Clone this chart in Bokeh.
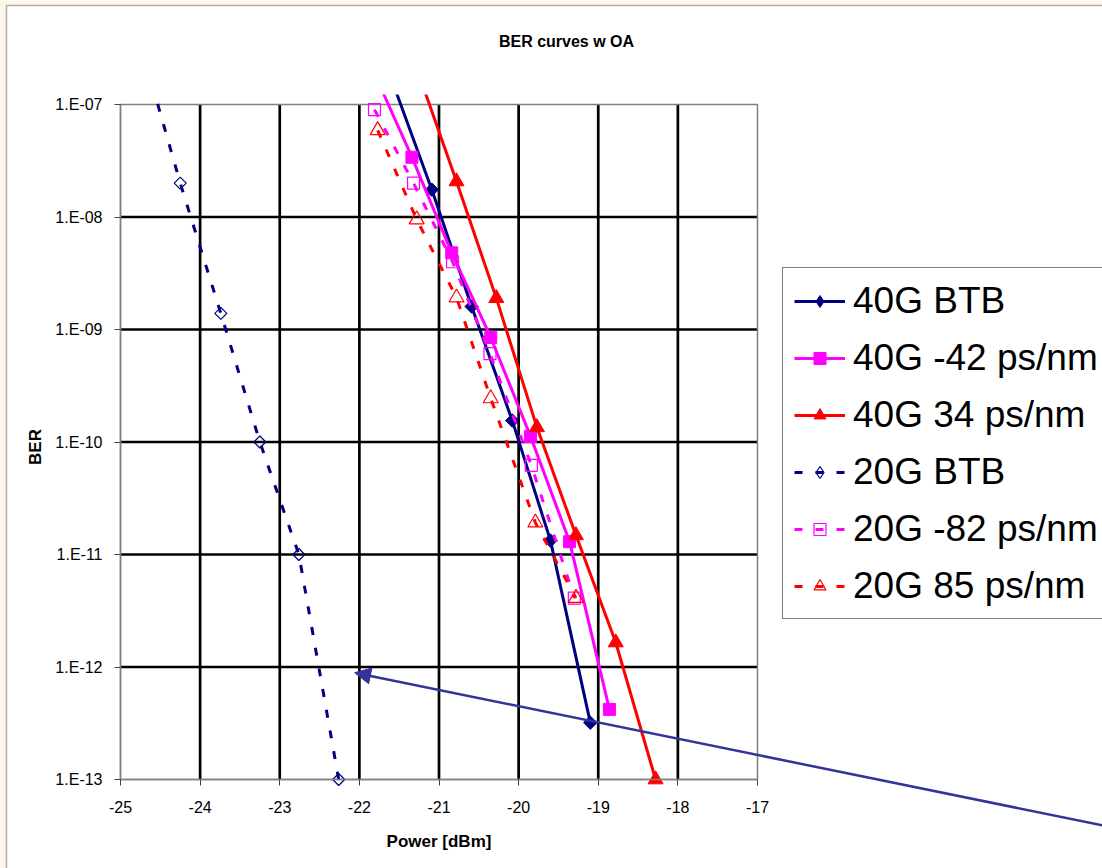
from bokeh.plotting import figure
from bokeh.models import (Range1d, FixedTicker, Legend, LegendItem, Label, Arrow, NormalHead,
                          BoxAnnotation)
from bokeh.embed import file_html
from bokeh.resources import INLINE
import math

# ---------------- data ----------------
title_text = "BER curves w OA"
x_label = "Power [dBm]"
y_label = "BER"

xtick_vals = [-25, -24, -23, -22, -21, -20, -19, -18, -17]
xtick_labels = ["-25", "-24", "-23", "-22", "-21", "-20", "-19", "-18", "-17"]
ytick_vals = [1e-13, 1e-12, 1e-11, 1e-10, 1e-09, 1e-08, 1e-07]
ytick_labels = ["1.E-13", "1.E-12", "1.E-11", "1.E-10", "1.E-09", "1.E-08", "1.E-07"]

labels = ["40G BTB", "40G -42 ps/nm", "40G 34 ps/nm",
          "20G BTB", "20G -82 ps/nm", "20G 85 ps/nm"]

x_40g_btb = [-21.60, -21.09, -20.59, -20.08, -19.60, -19.10]
y_40g_btb = [1.7e-7, 1.75e-8, 1.6e-9, 1.55e-10, 1.33e-11, 3.2e-13]

x_40g_m42 = [-21.84, -21.34, -20.84, -20.35, -19.85, -19.36, -18.86]
y_40g_m42 = [2.1e-7, 3.4e-8, 4.8e-9, 8.5e-10, 1.12e-10, 1.3e-11, 4.2e-13]

x_40g_p34 = [-21.28, -20.78, -20.28, -19.77, -19.28, -18.78, -18.28]
y_40g_p34 = [2.1e-7, 2.07e-8, 1.9e-9, 1.35e-10, 1.48e-11, 1.65e-12, 1.0e-13]

x_20g_btb = [-24.75, -24.25, -23.74, -23.25, -22.76, -22.26]
y_20g_btb = [3.5e-7, 2.0e-8, 1.39e-9, 1.0e-10, 1.0e-11, 1.0e-13]

x_20g_m82 = [-21.81, -21.32, -20.83, -20.36, -19.84, -19.30]
y_20g_m82 = [9.0e-8, 2.0e-8, 4.0e-9, 6.1e-10, 6.2e-11, 4.1e-12]

x_20g_p85 = [-21.77, -21.28, -20.78, -20.35, -19.79, -19.28]
y_20g_p85 = [5.9e-8, 9.5e-9, 1.92e-9, 2.44e-10, 1.92e-11, 4.1e-12]

# arrow annotation (tip and tail, data coordinates)
arrow_tip = (-22.06, 8.9e-13)
arrow_tail = (-12.66, 3.9e-14)

# ---------------- layout (canvas pixels) ----------------
W, H = 1102, 868
BOX_L, BOX_R, BOX_T, BOX_B = 120, 757, 104, 779   # plot box
LINE_CLIP_TOP = 94                                 # series are cut here, as in the original
CHART_L, CHART_T = 6, 5                            # chart-area border

px_per_x = (BOX_R - BOX_L) / (xtick_vals[-1] - xtick_vals[0])
lg_top, lg_bot = math.log10(ytick_vals[-1]), math.log10(ytick_vals[0])
px_per_dec = (BOX_B - BOX_T) / (lg_top - lg_bot)
x_start = xtick_vals[0] - BOX_L / px_per_x
x_end = xtick_vals[-1] + (W - BOX_R) / px_per_x
y_top = 10 ** (lg_top + BOX_T / px_per_dec)
y_bottom = 10 ** (lg_bot - (H - BOX_B) / px_per_dec)
clip_bottom = 10 ** (lg_top + (BOX_T - LINE_CLIP_TOP) / px_per_dec)
clip_top = 10 ** (lg_top + (BOX_T - CHART_T - 2) / px_per_dec)

# ---------------- styles ----------------
NAVY = "#000080"
MAGENTA = "#FF00FF"
RED = "#FF0000"
ARROW_COLOR = "#333399"
CREAM = "#FDF5E6"
FONT = "Liberation Sans"

styles = [
    dict(color=NAVY, marker="square", angle=math.pi / 4, size=9.5, filled=True, dash="solid", legend_marker="diamond"),
    dict(color=MAGENTA, marker="square", angle=0, size=12, filled=True, dash="solid", legend_marker=None),
    dict(color=RED, marker="triangle", angle=0, size=15, filled=True, dash="solid", legend_marker=None),
    dict(color=NAVY, marker="square", angle=math.pi / 4, size=8.5, filled=False, dash="8 13", legend_marker="diamond"),
    dict(color=MAGENTA, marker="square", angle=0, size=12, filled=False, dash="8 13", legend_marker=None),
    dict(color=RED, marker="triangle", angle=0, size=15, filled=False, dash="8 13", legend_marker=None),
]
series_x = [x_40g_btb, x_40g_m42, x_40g_p34, x_20g_btb, x_20g_m82, x_20g_p85]
series_y = [y_40g_btb, y_40g_m42, y_40g_p34, y_20g_btb, y_20g_m82, y_20g_p85]

p = figure(width=W, height=H, output_backend="svg", toolbar_location=None,
           x_range=Range1d(x_start, x_end), y_range=Range1d(y_bottom, y_top), y_axis_type="log",
           min_border_left=0, min_border_right=0, min_border_top=0, min_border_bottom=0)

p.background_fill_color = CREAM
p.border_fill_color = CREAM
p.outline_line_color = None
p.xgrid.visible = False
p.ygrid.visible = False

# white chart area with black border
p.add_layout(BoxAnnotation(left=CHART_L, right=W + 20, top=H - CHART_T, bottom=-20,
                           left_units="screen", right_units="screen",
                           top_units="screen", bottom_units="screen",
                           fill_color="white", fill_alpha=1,
                           line_color="black", line_width=1.5, level="underlay"))

# axes placed at the plot box edges
p.xaxis.fixed_location = ytick_vals[0]
p.yaxis.fixed_location = xtick_vals[0]
p.xaxis.bounds = (xtick_vals[0], xtick_vals[-1])
p.yaxis.bounds = (ytick_vals[0], ytick_vals[-1])
p.xaxis.ticker = FixedTicker(ticks=xtick_vals)
p.xaxis.major_label_overrides = {v: l for v, l in zip(xtick_vals, xtick_labels)}
p.yaxis.ticker = FixedTicker(ticks=ytick_vals)
p.yaxis.major_label_overrides = {v: l for v, l in zip(ytick_vals, ytick_labels)}
for ax in (p.xaxis, p.yaxis):
    ax.axis_line_color = "#808080"
    ax.axis_line_width = 1.5
    ax.major_tick_line_color = "#404040"
    ax.major_tick_line_width = 1
    ax.major_tick_out = 6
    ax.major_tick_in = 0
    ax.minor_tick_line_color = None
    ax.major_label_text_font = FONT
    ax.major_label_text_font_size = "16px"
    ax.major_label_text_color = "black"
p.xaxis.major_label_standoff = 15
p.yaxis.major_label_standoff = 12

# grid lines (interior) and plot box
gx = xtick_vals[1:-1]
p.segment(x0=gx, y0=[ytick_vals[0]] * len(gx), x1=gx, y1=[ytick_vals[-1]] * len(gx),
          line_color="black", line_width=2.7)
gy = ytick_vals[1:-1]
p.segment(x0=[xtick_vals[0]] * len(gy), y0=gy, x1=[xtick_vals[-1]] * len(gy), y1=gy,
          line_color="black", line_width=2.7)
p.quad(left=[xtick_vals[0]], right=[xtick_vals[-1]], bottom=[ytick_vals[0]], top=[ytick_vals[-1]],
       fill_color=None, line_color="#808080", line_width=1.5)

# series
items = []
for lab, xs, ys, st in zip(labels, series_x, series_y, styles):
    lr = p.line(xs, ys, line_color=st["color"], line_width=3, line_dash=st["dash"])
    fill = dict(fill_color=st["color"], line_width=1) if st["filled"] else dict(fill_alpha=0, line_width=1.2)
    sr = p.scatter(xs, ys, marker=st["marker"], size=st["size"], angle=st["angle"],
                   line_color=st["color"], **fill)
    legend_renderers = [lr, sr]
    if st["legend_marker"] is not None:
        # legend swatches are never rotated: a zero-size diamond renderer supplies the swatch
        dr = p.scatter(xs, ys, marker=st["legend_marker"], size=0, line_color=st["color"], **fill)
        legend_renderers = [lr, dr]
    items.append(LegendItem(label=lab, renderers=legend_renderers))

# white mask: series are cut slightly above the plot box as in the original
p.quad(left=[xtick_vals[0]], right=[xtick_vals[-1]], bottom=[clip_bottom], top=[clip_top],
       fill_color="white", line_color=None)

# arrow
p.add_layout(Arrow(end=NormalHead(size=16, fill_color=ARROW_COLOR, line_color=ARROW_COLOR),
                   x_start=arrow_tail[0], y_start=arrow_tail[1],
                   x_end=arrow_tip[0], y_end=arrow_tip[1],
                   line_color=ARROW_COLOR, line_width=2.5))

# legend
legend = Legend(items=items, location=(782, H - 619), orientation="vertical",
                label_text_font=FONT, label_text_font_size="37px", label_text_color="black",
                glyph_width=51, glyph_height=30, label_height=43, label_standoff=8,
                spacing=14, padding=11, margin=0,
                border_line_color="black", border_line_width=1,
                background_fill_color="white", background_fill_alpha=1)
p.add_layout(legend, "center")

# title and axis titles
p.add_layout(Label(x=566, y=H - 41, x_units="screen", y_units="screen", text=title_text,
                   text_font=FONT, text_font_style="bold", text_font_size="16px",
                   text_align="center", text_baseline="middle", text_color="black"))
p.add_layout(Label(x=(BOX_L + BOX_R) / 2, y=H - 841, x_units="screen", y_units="screen",
                   text=x_label, text_font=FONT, text_font_style="bold", text_font_size="17px",
                   text_align="center", text_baseline="middle", text_color="black"))
p.add_layout(Label(x=35, y=H - (BOX_T + BOX_B) / 2 - 5, x_units="screen", y_units="screen",
                   text=y_label, angle=math.pi / 2, text_font=FONT, text_font_style="bold",
                   text_font_size="17px", text_align="center", text_baseline="middle",
                   text_color="black"))

open("out.html", "w").write(file_html(p, INLINE))
